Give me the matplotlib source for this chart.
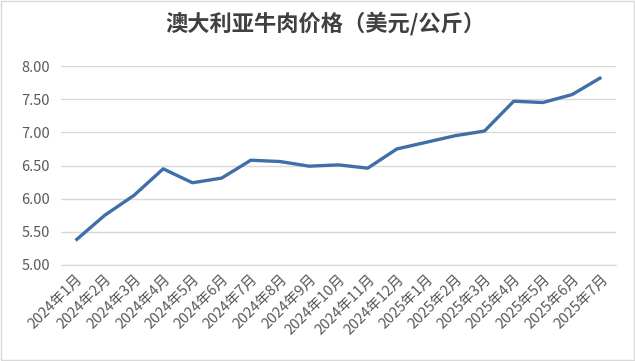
import matplotlib
matplotlib.use("Agg")
import matplotlib.pyplot as plt

plt.rcParams['font.family'] = ['Noto Sans CJK SC', 'DejaVu Sans']

months = ["2024年1月", "2024年2月", "2024年3月", "2024年4月", "2024年5月",
          "2024年6月", "2024年7月", "2024年8月", "2024年9月", "2024年10月",
          "2024年11月", "2024年12月", "2025年1月", "2025年2月", "2025年3月",
          "2025年4月", "2025年5月", "2025年6月", "2025年7月"]
price = [5.37, 5.75, 6.05, 6.45, 6.24, 6.31, 6.58, 6.56, 6.49, 6.51,
         6.46, 6.75, 6.85, 6.95, 7.02, 7.47, 7.45, 7.57, 7.83]
yticks = [5.0, 5.5, 6.0, 6.5, 7.0, 7.5, 8.0]

fig = plt.figure(figsize=(6.35, 3.61), dpi=100)
ax = fig.add_axes([0.096, 0.266, 0.874, 0.551])

x = range(len(months))
ax.plot(x, price, color="#3f6fa6", linewidth=2.4, solid_capstyle="butt")

ax.set_xlim(-0.5, len(months) - 0.5)
ax.set_ylim(5.0, 8.0)
ax.set_yticks(yticks)
ax.set_yticklabels(["%.2f" % v for v in yticks], color="#595959", fontsize=10.5)
ax.set_xticks(list(x))
ax.set_xticklabels(months, rotation=45, ha="right", rotation_mode="anchor",
                   color="#595959", fontsize=10.5)
ax.tick_params(axis="y", length=0, pad=8)
ax.tick_params(axis="x", length=0, pad=5)
ax.grid(axis="y", color="#d9d9d9", linewidth=1)
ax.set_axisbelow(True)
for s in ["top", "right", "left"]:
    ax.spines[s].set_visible(False)
ax.spines["bottom"].set_color("#d9d9d9")

fig.text(0.513, 0.935, "澳大利亚牛肉价格（美元/公斤）", ha="center", va="center",
         fontsize=16, fontweight="bold", color="#404040")

# light frame round the whole picture
fig.patches.append(plt.Rectangle((0.001, 0.002), 0.997, 0.995, transform=fig.transFigure,
                                 fill=False, edgecolor="#d9d9d9", linewidth=1))

fig.savefig("out.png", dpi=100)
